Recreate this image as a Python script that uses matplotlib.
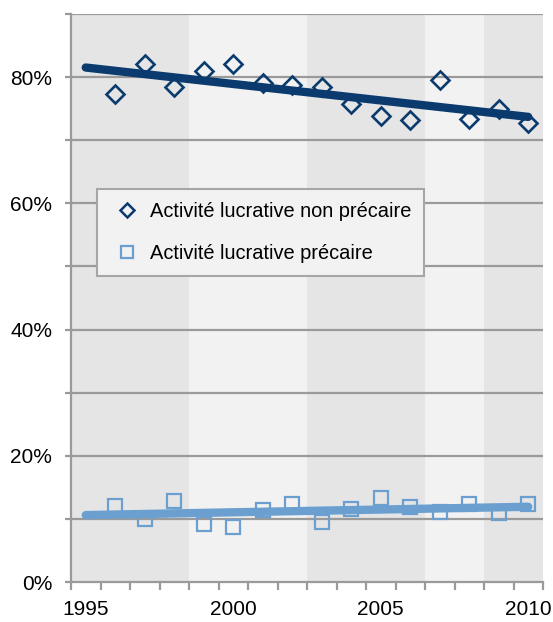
import numpy as np
import matplotlib
matplotlib.use("Agg")
import matplotlib.pyplot as plt
from matplotlib.lines import Line2D
from matplotlib.ticker import FixedLocator, FuncFormatter

plt.rcParams['font.family'] = ['Liberation Sans', 'DejaVu Sans']

years = [1996, 1997, 1998, 1999, 2000, 2001, 2002, 2003, 2004, 2005, 2006, 2007, 2008, 2009, 2010]
non_precaire = [0.774, 0.820, 0.785, 0.809, 0.820, 0.790, 0.787, 0.784, 0.757, 0.739, 0.732, 0.795, 0.733, 0.749, 0.728]
precaire = [0.121, 0.100, 0.129, 0.092, 0.087, 0.114, 0.123, 0.095, 0.116, 0.133, 0.119, 0.111, 0.124, 0.109, 0.123]
series_labels = ["Activité lucrative non précaire", "Activité lucrative précaire"]
band_edges = [1994.5, 1998.5, 2002.5, 2006.5, 2008.5, 2010.5]
year_labels = [1995, 2000, 2005, 2010]
pct_labels = [0.0, 0.2, 0.4, 0.6, 0.8]
trend_start = 1995

dark_blue = "#0b3a6e"
light_blue = "#6a9fd0"
band_colors = ["#e5e5e5", "#f2f2f2"]
grid_c = "#9a9a9a"
FS = 15
LFS = 14.4

W, H = 553, 622
fig = plt.figure(figsize=(W / 100, H / 100), dpi=100)
ax = fig.add_axes([71 / W, 1 - 582 / H, 472 / W, 568 / H])

for i in range(len(band_edges) - 1):
    ax.axvspan(band_edges[i], band_edges[i + 1], color=band_colors[i % 2], lw=0, zorder=0)

ax.set_xlim(band_edges[0], band_edges[-1])
ax.set_ylim(0, 0.9)

for yv in np.arange(0.1, 0.91, 0.1):
    ax.axhline(yv, color=grid_c, lw=1.6, zorder=1)

x = np.array(years, dtype=float)
xt = np.array([trend_start, years[-1]], dtype=float)
for vals, col in [(non_precaire, dark_blue), (precaire, light_blue)]:
    p = np.polyfit(x, np.array(vals), 1)
    ax.plot(xt, np.polyval(p, xt), color=col, lw=6, solid_capstyle='round', zorder=2)

ax.plot(years, non_precaire, linestyle='none', marker='D', ms=9.5, mfc='none',
        mec=dark_blue, mew=1.9, zorder=3)
ax.plot(years, precaire, linestyle='none', marker='s', ms=10.5, mfc='none',
        mec=light_blue, mew=1.6, zorder=3)

for s in ['top', 'right']:
    ax.spines[s].set_visible(False)
for s in ['left', 'bottom']:
    ax.spines[s].set_color(grid_c)
    ax.spines[s].set_linewidth(1.6)

ax.xaxis.set_major_locator(FixedLocator(year_labels))
ax.xaxis.set_minor_locator(FixedLocator(np.arange(band_edges[0], band_edges[-1] + 0.01, 1.0)))
ax.tick_params(axis='x', which='major', length=0, pad=13, labelsize=FS)
ax.tick_params(axis='x', which='minor', length=5.5, width=1.6, color=grid_c, direction='out')

ax.yaxis.set_major_locator(FixedLocator(pct_labels))
ax.yaxis.set_minor_locator(FixedLocator(np.arange(0.1, 0.91, 0.2)))
ax.yaxis.set_major_formatter(FuncFormatter(lambda v, _: f"{v*100:.0f}%"))
ax.tick_params(axis='y', which='both', length=4.5, width=1.6, color=grid_c, direction='out')
ax.tick_params(axis='y', which='major', pad=9, labelsize=FS)

handles = [
    Line2D([], [], linestyle='none', marker='D', ms=7.5, mfc='none', mec=dark_blue, mew=1.8),
    Line2D([], [], linestyle='none', marker='s', ms=8.5, mfc='none', mec=light_blue, mew=1.6),
]
leg = ax.legend(handles, series_labels, loc='upper left',
                bbox_to_anchor=((97 - 71) / 472, (582 - 189) / 568),
                borderaxespad=0, fontsize=LFS, frameon=True, fancybox=False,
                handlelength=1.7, handletextpad=0.3, borderpad=0.65, labelspacing=1.15)
leg.get_frame().set_facecolor("#f2f2f2")
leg.get_frame().set_edgecolor("#a6a6a6")
leg.get_frame().set_linewidth(1.5)
leg.get_frame().set_alpha(1)

fig.savefig("out.png", dpi=100)
